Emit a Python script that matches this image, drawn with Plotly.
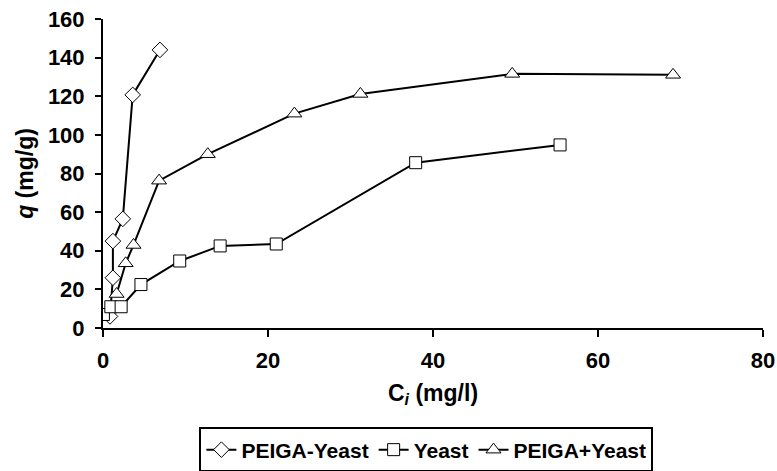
import plotly.graph_objects as go

peiga_yeast_x = [0.85, 1.2, 1.2, 2.4, 3.6, 6.9]
peiga_yeast_y = [6, 26, 45, 56.5, 120.7, 144]

yeast_x = [0.05, 0.95, 2.2, 4.6, 9.3, 14.2, 21.0, 37.9, 55.4]
yeast_y = [7, 11, 11, 22.5, 34.7, 42.5, 43.5, 85.6, 94.8]

peiga_plus_x = [1.65, 2.75, 3.7, 6.8, 12.7, 23.2, 31.2, 49.6, 69.1]
peiga_plus_y = [17.6, 33.5, 43, 76.3, 90, 111, 121.2, 131.6, 131.1]

x_ticks = [0, 20, 40, 60, 80]
y_ticks = [0, 20, 40, 60, 80, 100, 120, 140, 160]

FONT = "Liberation Sans"
FS_TICK = 22
FS_TITLE = 23
FS_LEG = 21

fig = go.Figure()

def add(x, y, name, symbol, size):
    fig.add_trace(go.Scatter(
        x=x, y=y, name="<b>" + name + "</b>", mode="lines+markers",
        line=dict(color="black", width=2),
        marker=dict(symbol=symbol, size=size, color="white",
                    line=dict(color="black", width=1)),
    ))

add(peiga_yeast_x, peiga_yeast_y, "PEIGA-Yeast", "diamond", 12)
add(yeast_x, yeast_y, "Yeast", "square", 12)
add(peiga_plus_x, peiga_plus_y, "PEIGA+Yeast", "triangle-up", 13)

fig.update_layout(
    width=777, height=471,
    margin=dict(l=103, r=14, t=19, b=143, autoexpand=False),
    paper_bgcolor="white", plot_bgcolor="white",
    font=dict(family=FONT, size=FS_TICK, color="black"),
    showlegend=True,
    legend=dict(orientation="h", x=0.49, xanchor="center", y=-0.322, yanchor="top",
                bordercolor="black", borderwidth=2,
                font=dict(family=FONT, size=FS_LEG, color="black", weight="bold"),
                itemwidth=30, tracegroupgap=0),
)

fig.update_xaxes(
    range=[0, 80], tickvals=x_ticks, ticktext=["<b>%d</b>" % v for v in x_ticks],
    showline=True, linecolor="black", linewidth=2,
    ticks="outside", ticklen=7, tickwidth=2, tickcolor="black",
    showgrid=False, zeroline=False, automargin=False, ticklabeloverflow="allow",
    ticklabelstandoff=5,
    tickfont=dict(family=FONT, size=FS_TICK, weight="bold"),
    title=dict(text="<b>C<sub><i>i</i></sub> (mg/l)</b>", font=dict(family=FONT, size=FS_TITLE), standoff=12),
)
fig.update_yaxes(
    range=[0, 160], tickvals=y_ticks, ticktext=["<b>%d</b>" % v for v in y_ticks],
    showline=True, linecolor="black", linewidth=2,
    ticks="outside", ticklen=6, tickwidth=2, tickcolor="black",
    showgrid=False, zeroline=False, automargin=False, ticklabeloverflow="allow",
    ticklabelstandoff=6,
    tickfont=dict(family=FONT, size=FS_TICK, weight="bold"),
    title=dict(text="<b><i>q</i> (mg/g)</b>", font=dict(family=FONT, size=FS_TITLE), standoff=8),
)

fig.write_html("out.html")
